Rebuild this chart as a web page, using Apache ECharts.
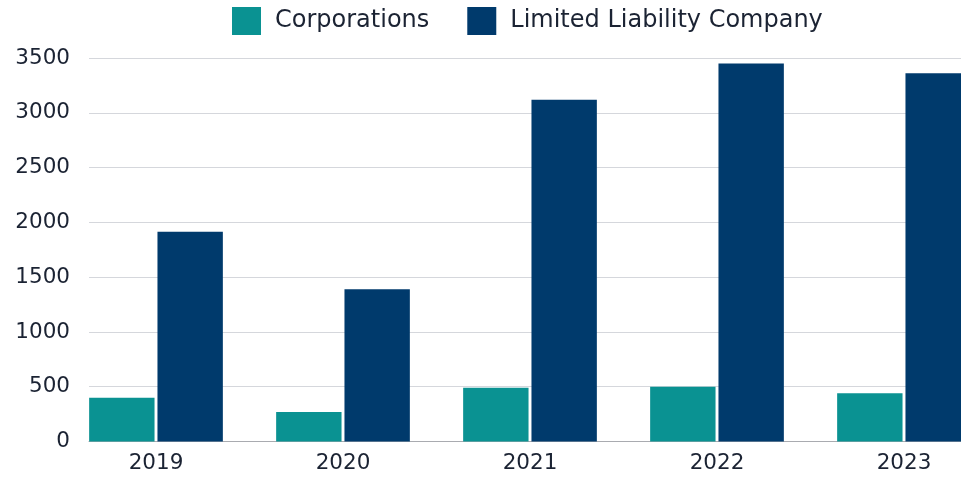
<!DOCTYPE html>
<html>
<head>
<meta charset="utf-8">
<script src="https://cdn.jsdelivr.net/npm/echarts@6/dist/echarts.min.js"></script>
<style>
  html, body { margin: 0; padding: 0; background: #ffffff; }
  #chart { width: 961px; height: 478px; }
</style>
</head>
<body>
<div id="chart"></div>
<script>
// Annual formations by entity type
const years = ['2019', '2020', '2021', '2022', '2023'];
const corporations = [400, 270, 490, 500, 440];
const llc = [1915, 1390, 3120, 3450, 3360];
const yTicks = { min: 0, max: 3500, interval: 500 };

const FONT = '"DejaVu Sans", sans-serif';
const TEXT = '#1b2333';
const TEAL = '#0a9292';
const NAVY = '#003a6c';

const chart = echarts.init(document.getElementById('chart'), null, { renderer: 'canvas' });

chart.setOption({
  animation: false,
  backgroundColor: '#ffffff',
  textStyle: { fontFamily: FONT },
  legend: {
    left: 232,
    top: 7,
    padding: 0,
    itemWidth: 29,
    itemHeight: 28,
    itemGap: 38,
    icon: 'rect',
    textStyle: { fontFamily: FONT, fontSize: 24, color: TEXT, padding: [0, 0, 0, 9] },
    data: ['Corporations', 'Limited Liability Company']
  },
  grid: [
    // bars: five category bands of 187px starting at x=62.5 (last one runs past the edge)
    { left: 62.5, width: 935, top: 58, bottom: 36.5, outerBoundsMode: 'none', containLabel: false },
    // value scale, gridlines and baseline
    { left: 89, right: 0, top: 58, bottom: 36.5, outerBoundsMode: 'none', containLabel: false }
  ],
  xAxis: [
    {
      type: 'category',
      gridIndex: 0,
      data: years,
      axisLine: { show: false },
      axisTick: { show: false },
      axisLabel: { fontFamily: FONT, fontSize: 21.5, color: TEXT, margin: 11 }
    },
    {
      type: 'value',
      gridIndex: 1,
      min: 0,
      max: 1,
      axisLine: { show: true, lineStyle: { color: '#a9abb0', width: 1 } },
      axisTick: { show: false },
      axisLabel: { show: false },
      splitLine: { show: false }
    }
  ],
  yAxis: [
    {
      type: 'value',
      gridIndex: 0,
      min: yTicks.min,
      max: yTicks.max,
      interval: yTicks.interval,
      axisLine: { show: false },
      axisTick: { show: false },
      axisLabel: { show: false },
      splitLine: { show: false }
    },
    {
      type: 'value',
      gridIndex: 1,
      min: yTicks.min,
      max: yTicks.max,
      interval: yTicks.interval,
      axisLine: { show: false },
      axisTick: { show: false },
      axisLabel: {
        fontFamily: FONT, fontSize: 21.5, color: TEXT, margin: 19,
        formatter: (v) => String(v)
      },
      splitLine: { show: true, lineStyle: { color: '#d5d7dc', width: 1 } }
    }
  ],
  series: [
    {
      name: 'Corporations',
      type: 'bar',
      xAxisIndex: 0,
      yAxisIndex: 0,
      data: corporations,
      itemStyle: { color: TEAL },
      barGap: '4.5%',
      barCategoryGap: '28.5%'
    },
    {
      name: 'Limited Liability Company',
      type: 'bar',
      xAxisIndex: 0,
      yAxisIndex: 0,
      data: llc,
      itemStyle: { color: NAVY },
      barGap: '4.5%',
      barCategoryGap: '28.5%'
    }
  ]
});
</script>
</body>
</html>
